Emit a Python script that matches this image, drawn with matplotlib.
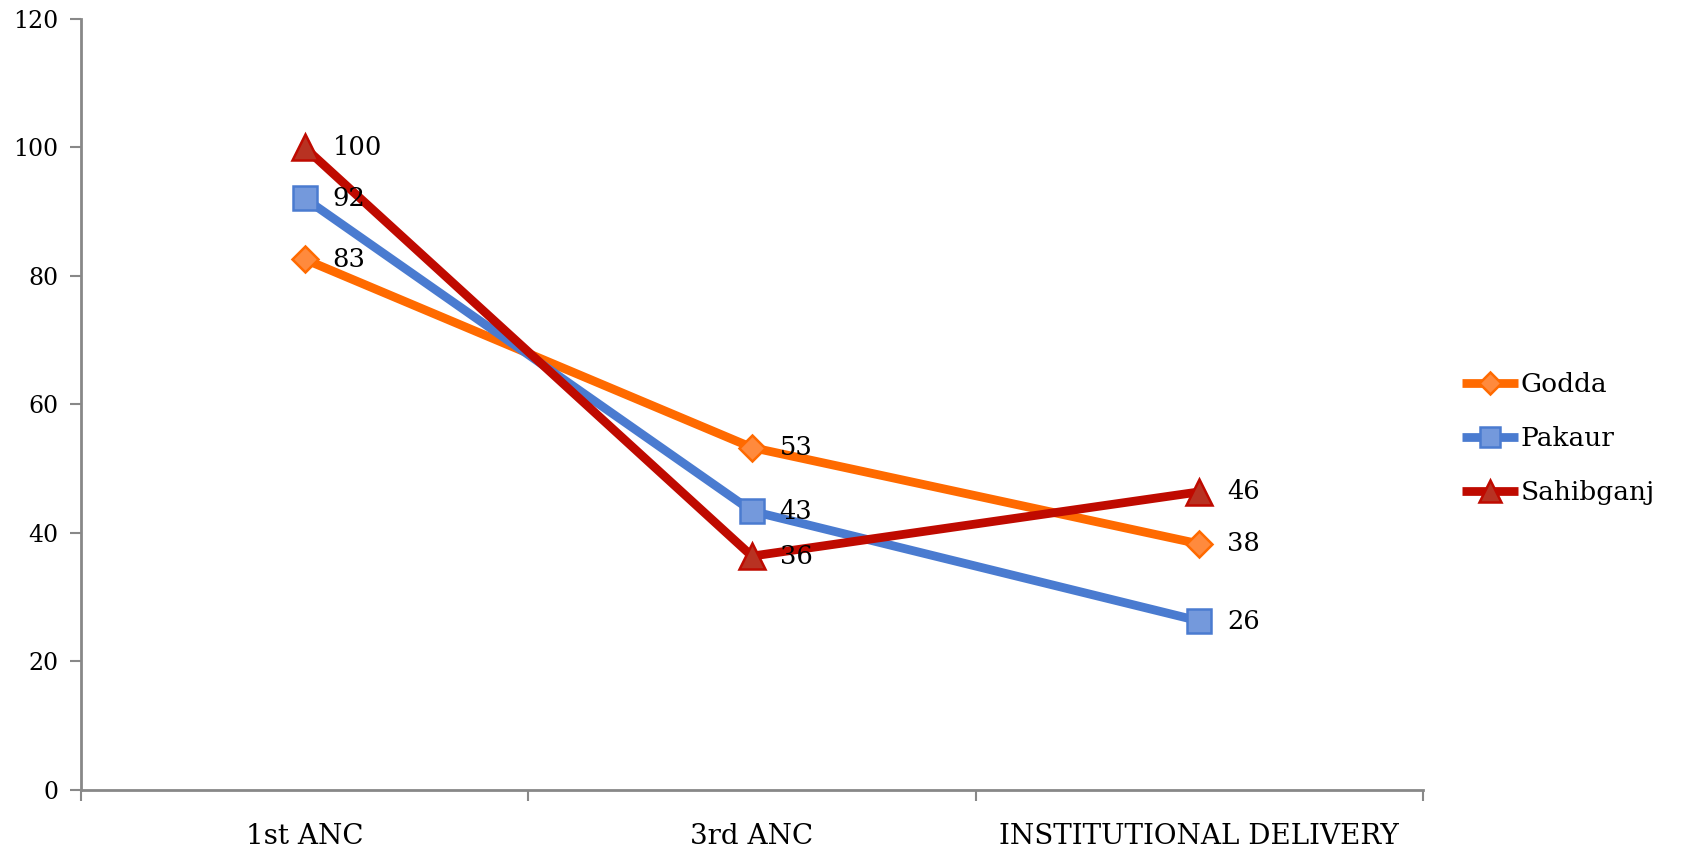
import matplotlib
matplotlib.use("Agg")
import matplotlib.pyplot as plt

categories = ["1st ANC", "3rd ANC", "INSTITUTIONAL DELIVERY"]
godda = [82.6, 53.3, 38.3]
pakaur = [92.1, 43.4, 26.3]
sahibganj = [100.0, 36.4, 46.4]
series_names = ["Godda", "Pakaur", "Sahibganj"]
y_ticks = [0, 20, 40, 60, 80, 100, 120]

plt.rcParams['font.family'] = ['DejaVu Serif']

fig = plt.figure(figsize=(16.86, 8.51), dpi=100)
ax = fig.add_axes([0.048, 0.0717, 0.796, 0.906])

styles = [
    dict(color="#FF6A00", marker="D", mfc="#FF8A3D", mec="#FF6A00", ms=13),
    dict(color="#4A7BD0", marker="s", mfc="#7499DC", mec="#4A7BD0", ms=17),
    dict(color="#BF0A00", marker="^", mfc="#B83222", mec="#BF0A00", ms=19),
]
xs = [i + 0.5 for i in range(len(categories))]
handles = []
for name, vals, st in zip(series_names, [godda, pakaur, sahibganj], styles):
    ln, = ax.plot(xs, vals, color=st["color"], lw=6.3, marker=st["marker"],
                  markerfacecolor=st["mfc"], markeredgecolor=st["mec"],
                  markersize=st["ms"], markeredgewidth=1.8, solid_capstyle='butt',
                  label=name, zorder=3)
    handles.append(ln)
    for x, v in zip(xs, vals):
        ax.annotate(f"{v:.0f}", (x, v), xytext=(20, 0), textcoords="offset points",
                    ha="left", va="center", fontsize=18.5, color="black", zorder=4)

ax.set_xlim(0, 3)
ax.set_ylim(0, 120)
ax.set_yticks(y_ticks)
ax.set_yticklabels([str(t) for t in y_ticks], fontsize=17)
ax.set_xticks([0, 1, 2, 3])
ax.set_xticklabels([])
ax.set_xticks(xs, minor=True)
ax.set_xticklabels(categories, minor=True, fontsize=20)
ax.tick_params(axis='x', which='minor', length=0, pad=24)
ax.tick_params(axis='x', which='major', length=8, width=1.5, color="#888888", direction='out')
ax.tick_params(axis='y', length=8, width=1.5, color="#888888", direction='out', pad=8)

for s in ["top", "right"]:
    ax.spines[s].set_visible(False)
for s in ["left", "bottom"]:
    ax.spines[s].set_color("#888888")
    ax.spines[s].set_linewidth(2)

fig.legend(handles=handles, loc="center left", bbox_to_anchor=(0.8595, 0.485),
           frameon=False, fontsize=19, handlelength=2.1, handletextpad=0.1,
           labelspacing=1.1, borderpad=0, markerscale=0.85)

fig.savefig("out.png", dpi=100)
